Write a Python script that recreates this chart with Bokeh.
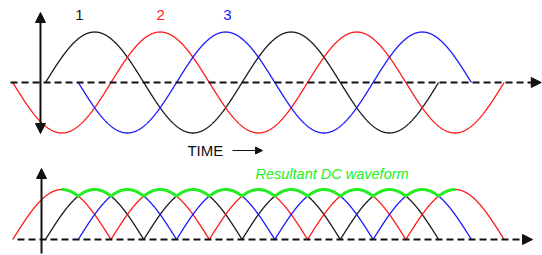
import numpy as np
from bokeh.plotting import figure
from bokeh.models import Range1d, Arrow, NormalHead, Label
from bokeh.embed import file_html
from bokeh.resources import INLINE

# ---- data (phase angle in degrees) ----
phase_names = ["1", "2", "3"]
phase_colors = ["#1a1a1a", "#ff1a1a", "#1a1aff"]
phase_shift = [0, 120, 240]          # lag of each phase
phase_start = [0, -60, 60]           # where each trace starts (deg)
phase_end = [720, 840, 780]          # where each trace ends (deg)
label_x = [62, 211, 333]             # label positions (deg)
label_y = [1.33, 1.33, 1.33]
dc_start = 30
dc_end = 750
title_text = "TIME"
dc_text = "Resultant DC waveform"

FONT = "Liberation Sans"

p = figure(width=542, height=255, output_backend="svg", toolbar_location=None,
           x_range=Range1d(-82.42, 910.26), y_range=Range1d(-3.426, 1.624),
           min_border=0, outline_line_color=None)
p.axis.visible = False
p.grid.visible = False
p.extra_y_ranges = {"low": Range1d(-0.32, 4.78)}


def wave(shift, a, b):
    th = np.linspace(a, b, int((b - a) * 2) + 1)
    return th, np.sin(np.radians(th - shift))


# ---- top panel: three-phase AC ----
p.add_layout(Arrow(x_start=-64, y_start=0, x_end=908, y_end=0, line_width=2,
                   line_dash="7 4", line_color="#111111",
                   end=NormalHead(size=10, fill_color="#111111", line_color="#111111")))
p.add_layout(Arrow(x_start=-9.2, y_start=-1.01, x_end=-9.2, y_end=1.386, line_width=2,
                   line_color="#111111",
                   start=NormalHead(size=10, fill_color="#111111", line_color="#111111"),
                   end=NormalHead(size=10, fill_color="#111111", line_color="#111111")))
for s, a, b, c in zip(phase_shift, phase_start, phase_end, phase_colors):
    th, v = wave(s, a, b)
    p.line(th, v, line_color=c, line_width=1.3)
for n, x, y, c in zip(phase_names, label_x, label_y, phase_colors):
    p.add_layout(Label(x=x, y=y, text=n, text_color=c, text_font=FONT,
                       text_font_size="15px", text_baseline="middle", text_align="center"))

p.add_layout(Label(x=260, y=-1.347, text=title_text, text_color="#111111", text_font=FONT,
                   text_font_size="15px", text_baseline="middle"))
p.add_layout(Arrow(x_start=342.5, y_start=-1.347, x_end=397.4, y_end=-1.347, line_width=1.2,
                   line_color="#111111",
                   end=NormalHead(size=7, fill_color="#111111", line_color="#111111")))

# ---- bottom panel: rectified ----
p.add_layout(Arrow(x_start=-51.3, y_start=0, x_end=892, y_end=0, line_width=2,
                   line_dash="7 4", line_color="#111111", y_range_name="low",
                   end=NormalHead(size=10, fill_color="#111111", line_color="#111111")))
p.add_layout(Arrow(x_start=-7.3, y_start=-0.28, x_end=-7.3, y_end=1.42, line_width=2,
                   line_color="#111111", y_range_name="low",
                   end=NormalHead(size=10, fill_color="#111111", line_color="#111111")))
for s, a, b, c in zip(phase_shift, phase_start, phase_end, phase_colors):
    th, v = wave(s, a, b)
    p.line(th, np.abs(v), line_color=c, line_width=1.3, y_range_name="low")

th = np.linspace(dc_start, dc_end, (dc_end - dc_start) * 2 + 1)
env = np.max([np.abs(np.sin(np.radians(th - s))) for s in phase_shift], axis=0)
p.line(th, env, line_color="#22ee22", line_width=3, y_range_name="low")

p.add_layout(Label(x=384.6, y=1.32, text=dc_text, text_color="#22ee22", text_font=FONT,
                   text_font_size="14.5px", text_font_style="italic", text_baseline="middle",
                   y_range_name="low"))

open("out.html", "w").write(file_html(p, INLINE))
